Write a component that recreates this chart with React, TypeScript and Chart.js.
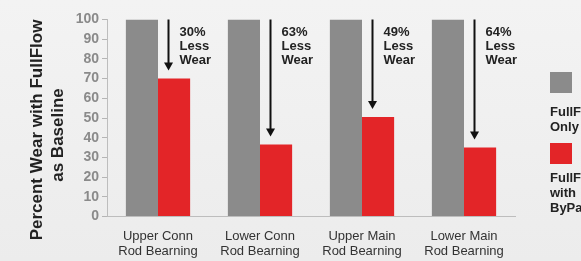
import React, { useEffect, useRef } from "react";
import { Chart, registerables } from "chart.js";

Chart.register(...registerables);

const categories: string[][] = [
  ["Upper Conn", "Rod Bearning"],
  ["Lower Conn", "Rod Bearning"],
  ["Upper Main", "Rod Bearning"],
  ["Lower Main", "Rod Bearning"],
];
const fullFlowOnly = [100, 100, 100, 100];
const fullFlowByPass = [70, 36.5, 50.5, 35];
const reductionLabels = ["30%", "63%", "49%", "64%"];
const yTitle = ["Percent Wear with FullFlow", "as Baseline"];
const legendLabels = [["FullFlow", "Only"], ["FullFlow", "with", "ByPass"]];

const GRAY = "#8b8b8b";
const RED = "#e32528";
const FONT = "'Liberation Sans', Arial, Helvetica, sans-serif";

const overlay = {
  id: "overlay",
  beforeDraw(chart: any) {
    const { ctx, width, height } = chart;
    ctx.save();
    const g = ctx.createLinearGradient(0, 0, 0, height);
    g.addColorStop(0, "#f3f3f3");
    g.addColorStop(1, "#ececec");
    ctx.fillStyle = g;
    ctx.fillRect(0, 0, width, height);
    ctx.restore();
  },
  afterDraw(chart: any) {
    const { ctx } = chart;
    const yScale = chart.scales.y;
    const meta = chart.getDatasetMeta(1);
    ctx.save();
    meta.data.forEach((bar: any, i: number) => {
      const left = bar.x - bar.width / 2;
      const ax = Math.round(left + 10) + 0.5;
      const top = yScale.getPixelForValue(fullFlowOnly[i]);
      const tip = bar.y - 8;
      ctx.strokeStyle = "#111";
      ctx.fillStyle = "#111";
      ctx.lineWidth = 2;
      ctx.beginPath();
      ctx.moveTo(ax, top);
      ctx.lineTo(ax, tip - 6);
      ctx.stroke();
      ctx.beginPath();
      ctx.moveTo(ax - 4.5, tip - 8);
      ctx.lineTo(ax + 4.5, tip - 8);
      ctx.lineTo(ax, tip);
      ctx.closePath();
      ctx.fill();
      ctx.fillStyle = "#222";
      ctx.font = `bold 13px ${FONT}`;
      ctx.textAlign = "left";
      ctx.textBaseline = "middle";
      const tx = ax + 11;
      [reductionLabels[i], "Less", "Wear"].forEach((t, k) => {
        ctx.fillText(t, tx, 32 + k * 14);
      });
    });
    ctx.fillStyle = "#222";
    ctx.font = `bold 17px ${FONT}`;
    ctx.textAlign = "center";
    ctx.textBaseline = "middle";
    const tcx = [37, 58];
    const tcy = [130, 135];
    yTitle.forEach((t, k) => {
      ctx.save();
      ctx.translate(tcx[k], tcy[k]);
      ctx.rotate(-Math.PI / 2);
      ctx.fillText(t, 0, 0);
      ctx.restore();
    });
    const lx = 550;
    ctx.fillStyle = GRAY;
    ctx.fillRect(lx, 72, 22, 21);
    ctx.fillStyle = RED;
    ctx.fillRect(lx, 143, 22, 21);
    ctx.fillStyle = "#222";
    ctx.font = `bold 13px ${FONT}`;
    ctx.textAlign = "left";
    ctx.textBaseline = "middle";
    legendLabels[0].forEach((t, k) => ctx.fillText(t, lx, 112 + k * 15));
    legendLabels[1].forEach((t, k) => ctx.fillText(t, lx, 178 + k * 15));
    ctx.restore();
  },
};

export default function App() {
  const ref = useRef<HTMLCanvasElement | null>(null);
  useEffect(() => {
    if (!ref.current) return;
    const chart = new Chart(ref.current, {
      type: "bar",
      data: {
        labels: categories,
        datasets: [
          {
            label: "FullFlow Only",
            data: fullFlowOnly,
            backgroundColor: GRAY,
            categoryPercentage: 0.63,
            barPercentage: 1.0,
          },
          {
            label: "FullFlow with ByPass",
            data: fullFlowByPass,
            backgroundColor: RED,
            categoryPercentage: 0.63,
            barPercentage: 1.0,
          },
        ],
      },
      options: {
        responsive: false,
        animation: false,
        devicePixelRatio: 1,
        layout: { padding: { top: 19.5, right: 66, left: 0, bottom: 0 } },
        plugins: { legend: { display: false }, tooltip: { enabled: false } },
        scales: {
          x: {
            grid: { display: false },
            border: { display: true, color: "#bdbdbd", width: 1 },
            ticks: {
              color: "#333",
              font: { family: FONT, size: 13, lineHeight: 1.2 },
              padding: 4,
              maxRotation: 0,
            },
            afterFit(scale: any) {
              scale.height = 44.5;
            },
          },
          y: {
            min: 0,
            max: 100,
            ticks: {
              stepSize: 10,
              autoSkip: false,
              color: "#8a8a8a",
              font: { family: FONT, size: 14, weight: "bold" },
              padding: 3,
            },
            grid: {
              drawOnChartArea: false,
              drawTicks: true,
              tickLength: 5,
              color: "#b5b5b5",
            },
            border: { display: true, color: "#bdbdbd", width: 1 },
            afterFit(scale: any) {
              scale.width = 107;
            },
          },
        },
      },
      plugins: [overlay],
    });
    return () => chart.destroy();
  }, []);
  return (
    <div style={{ position: "fixed", left: 0, top: 0, width: 581, height: 261 }}>
      <canvas ref={ref} width={581} height={261} />
    </div>
  );
}
